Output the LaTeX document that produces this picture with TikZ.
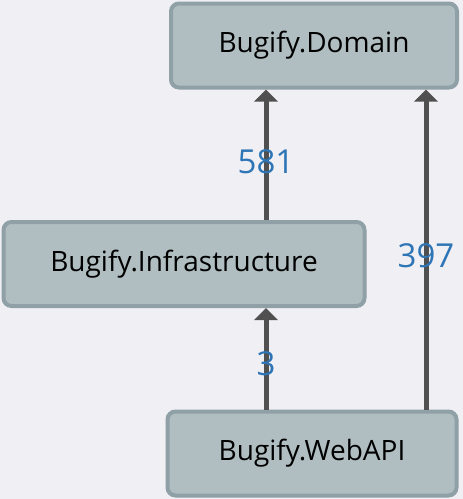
\documentclass[tikz,border=0pt]{standalone}
\usepackage{fontspec}
\setmainfont{Open Sans}
\usepackage{xcolor}
\definecolor{canvas}{HTML}{EFEFF4}
\definecolor{boxfill}{HTML}{B0BEC1}
\definecolor{boxline}{HTML}{8FA0A6}
\definecolor{arrowgray}{HTML}{505050}
\definecolor{countblue}{HTML}{2E75B6}
\usetikzlibrary{arrows.meta, positioning, calc}

\begin{document}
\begin{tikzpicture}[x=1pt, y=-1pt]
    \tikzstyle{modbox}=[draw=boxline, fill=boxfill, line width=4pt, rounded corners=8pt,
                        minimum height=84pt, text=black, font=\fontsize{28}{32}\selectfont]
    \tikzstyle{dep}=[-{Triangle[width=23pt, length=12pt]}, line width=5pt, color=arrowgray]
    \tikzstyle{count}=[text=countblue, font=\fontsize{33}{38}\selectfont]

    \fill[canvas] (0,0) rectangle (463,499);
    \useasboundingbox (0,0) rectangle (463,499);

    \node[modbox, minimum width=286pt] (dom)   at (314,45.5)  {Bugify.Domain};
    \node[modbox, minimum width=361pt] (infra) at (184,264)   {Bugify.Infrastructure};
    \node[modbox, minimum width=289pt] (web)   at (312,453.5) {Bugify.WebAPI};

    \coordinate (lx) at (266,0);
    \coordinate (rx) at (426,0);

    \draw[dep] (infra.north -| lx) -- (dom.south -| lx)
        node[count, pos=0.45] (c581) {581};
    \draw[dep] (web.north -| rx) -- (dom.south -| rx)
        node[count, pos=0.48] (c397) {397};
    \draw[dep] (web.north -| lx) -- (infra.south -| lx)
        node[count, pos=0.45] (c3) {3};
\end{tikzpicture}
\end{document}
